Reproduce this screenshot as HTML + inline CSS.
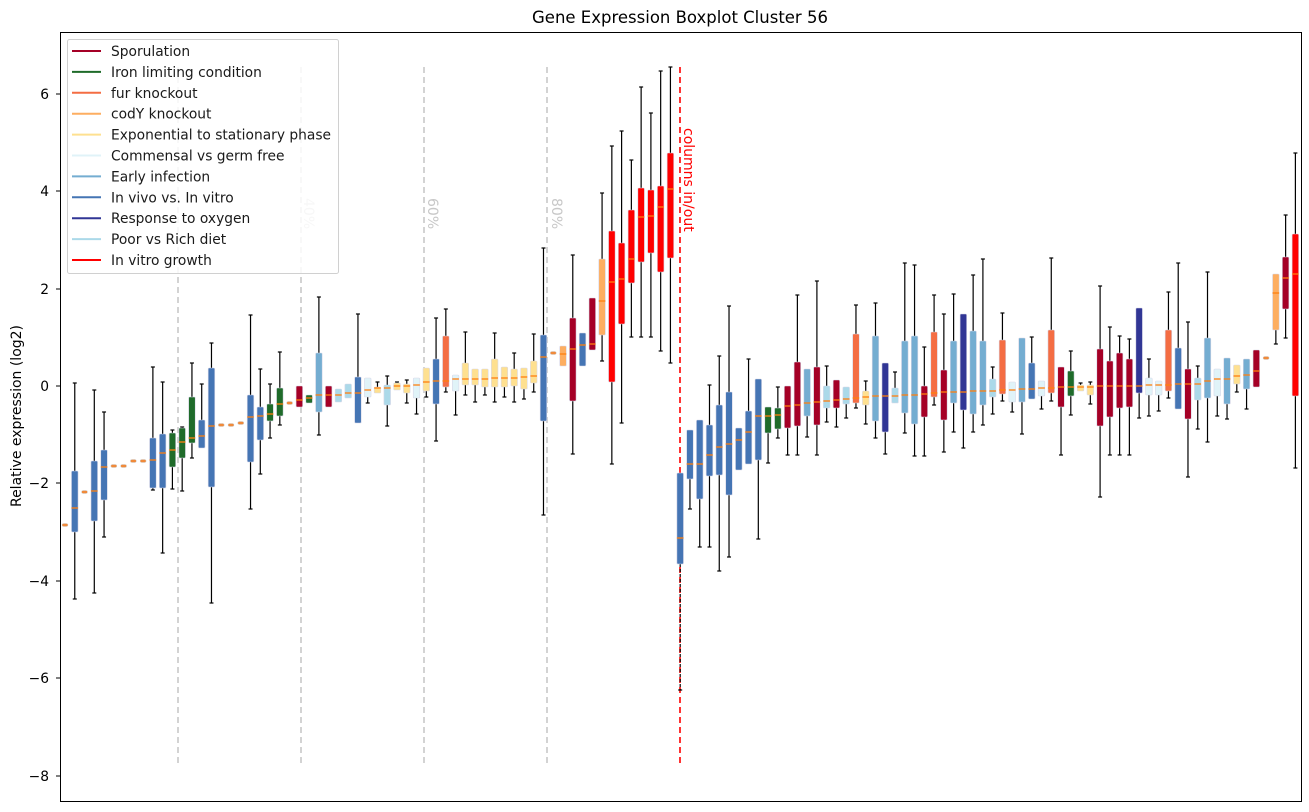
<!DOCTYPE html>
<html><head><meta charset="utf-8"><style>
html,body{margin:0;padding:0;background:#fff;}
svg{display:block;font-family:"DejaVu Sans","Liberation Sans",sans-serif;}
</style></head><body>
<svg id="s" width="1309" height="812" viewBox="0 0 1309 812" xmlns="http://www.w3.org/2000/svg">
<rect width="1309" height="812" fill="#fff"/>
<text x="680" y="23" font-size="16.5" text-anchor="middle" fill="#000">Gene Expression Boxplot Cluster 56</text>
<text transform="translate(21,416) rotate(-90)" font-size="14" text-anchor="middle" fill="#000">Relative expression (log2)</text>
<g id="yt" font-size="13.8" text-anchor="end" fill="#000"></g>
<g id="grid"></g>
<g id="boxes"></g>
<rect x="60.5" y="32.5" width="1241" height="769" fill="none" stroke="#000" stroke-width="1"/>
<g id="leg"></g>
</svg>
<script>
var NS="http://www.w3.org/2000/svg";
function el(p,t,a,txt){var e=document.createElementNS(NS,t);for(var k in a)e.setAttribute(k,a[k]);if(txt)e.textContent=txt;p.appendChild(e);return e;}
var yt=document.getElementById('yt');
[[6,94],[4,191],[2,289],[0,386],[-2,483],[-4,581],[-6,678],[-8,776]].forEach(function(t){
 el(yt,'line',{x1:56,x2:60,y1:t[1],y2:t[1],stroke:'#000'});
 el(yt,'text',{x:49,y:t[1]+5},String(t[0]).replace('-','\u2212'));
});
var g=document.getElementById('grid');
[178,301,424,547].forEach(function(x){el(g,'line',{x1:x,x2:x,y1:67,y2:767,stroke:'#c8c8c8','stroke-width':1.6,'stroke-dasharray':'6,4'});});
[['40%',308],['60%',432],['80%',556]].forEach(function(l){el(g,'text',{transform:'translate('+(l[1]-4)+',198) rotate(90)','font-size':14,fill:'#c8c8c8'},l[0]);});
el(g,'line',{x1:680,x2:680,y1:67,y2:767,stroke:'#ff0000','stroke-width':1.6,'stroke-dasharray':'6,4'});
el(g,'text',{transform:'translate(684,128) rotate(90)','font-size':14,fill:'#ff0000'},'columns in/out');
var C={S:'#a50026',I:'#1f6b2a',F:'#f46d43',Y:'#fdae61',E:'#fee090',M:'#e0f3f8',A:'#74add1',V:'#4575b4',O:'#313695',P:'#abd9e9',R:'#ff0000'};
var D=[
[0,'D',525],[1,'V',383,471,508,532,599],[2,'D',492],[3,'V',390,461,491,521,593],[4,'V',412,450,467,500,537],
[5,'D',466],[6,'D',466],[7,'D',461],[8,'D',461],[9,'V',367,438,460,488,490],[10,'V',382,434,453,488,553],
[11,'I',430,433,450,467,489],[12,'I',427,428,442,458,491],[13,'I',363,397,438,443,458],[14,'V',384,420,436,448,448],
[15,'V',343,368,426,487,603],[16,'D',425],[17,'D',425],[18,'D',423],[19,'V',315,395,417,462,509],[20,'V',369,407,416,440,474],
[21,'I',384,404,414,421,438],[22,'I',352,388,404,416,425],[23,'D',403],[24,'S',386,386,400,407,407],[25,'I',395,395,398,403,403],
[26,'A',297,353,395,412,435],[27,'S',386,386,395,407,407],[28,'P',389,389,395,402,402],[29,'P',384,384,393,398,398],
[30,'V',314,377,393,423,423],[31,'M',378,378,390,397,403],[32,'E',382,387,388,393,393],[33,'P',376,385,388,405,426],
[34,'E',382,383,386,390,390],[35,'E',380,384,386,393,403],[36,'M',378,378,385,398,414],[37,'E',368,368,382,391,397],
[38,'V',318,359,381,404,441],[39,'F',309,336,381,387,392],[40,'M',375,375,379,391,415],[41,'E',332,363,379,385,395],
[42,'E',369,369,379,385,402],[43,'E',369,369,379,387,395],[44,'E',333,359,378,387,402],[45,'E',367,367,378,387,397],
[46,'E',353,369,378,386,402],[47,'E',368,368,377,389,399],[48,'E',334,361,376,383,392],[49,'V',248,335,357,421,515],
[50,'D',353],[51,'Y',346,346,354,366,366],[52,'S',255,318,349,401,454],[53,'V',333,333,345,366,366],[54,'S',298,298,344,350,350],
[55,'Y',193,259,301,335,361],[56,'R',146,231,282,382,464],[57,'R',131,243,279,324,423],[58,'R',160,210,259,283,337],
[59,'R',87,188,217,262,337],[60,'R',113,190,216,253,337],[61,'R',71,186,207,272,351],[62,'R',67,153,189,258,363],
[63,'V',473,473,538,564,690],[64,'V',430,430,464,479,509],[65,'V',420,420,464,499,547],[66,'V',385,425,455,476,547],
[67,'V',356,405,447,475,571],[68,'V',306,392,444,495,557],[69,'V',428,428,440,470,470],[70,'V',359,411,432,464,464],
[71,'V',379,379,416,460,539],[72,'I',407,407,416,433,463],[73,'I',387,408,415,429,438],[74,'S',386,386,406,428,455],
[75,'S',295,362,405,426,455],[76,'A',369,369,403,416,437],[77,'S',281,367,402,425,455],[78,'P',366,386,401,408,422],
[79,'S',380,380,400,408,427],[80,'P',387,387,399,404,418],[81,'F',305,334,398,403,408],[82,'E',381,391,397,405,424],
[83,'A',303,336,396,421,438],[84,'O',363,363,396,432,454],[85,'P',372,388,396,403,403],[86,'A',263,341,395,413,433],
[87,'A',265,336,395,424,456],[88,'S',347,386,394,417,456],[89,'F',295,332,393,397,405],[90,'S',314,370,392,420,452],
[91,'A',294,341,392,403,432],[92,'O',314,314,392,410,448],[93,'A',275,331,391,414,432],[94,'A',259,341,391,405,425],
[95,'P',367,379,391,397,414],[96,'F',313,340,390,394,401],[97,'M',382,382,390,402,412],[98,'A',338,338,389,402,434],
[99,'V',337,363,389,399,399],[100,'M',381,381,388,396,409],[101,'F',258,330,388,393,401],[102,'S',367,367,387,407,455],
[103,'I',351,371,387,396,415],[104,'E',383,385,387,391,391],[105,'E',382,385,387,395,404],[106,'S',286,349,386,426,497],
[107,'S',327,361,386,417,455],[108,'S',336,353,386,408,455],[109,'S',339,359,386,407,455],[110,'O',308,308,386,393,418],
[111,'M',359,378,385,395,416],[112,'M',381,381,385,395,411],[113,'F',292,330,385,391,398],[114,'V',263,348,384,409,409],
[115,'S',322,369,384,419,477],[116,'P',366,378,384,400,429],[117,'A',272,338,381,398,442],[118,'M',369,369,379,396,416],
[119,'A',358,358,379,404,419],[120,'E',365,365,376,384,392],[121,'A',359,359,375,389,409],[122,'S',350,350,371,387,387],
[123,'D',358],[124,'Y',274,274,293,330,344],[125,'S',215,257,278,309,338],[126,'R',153,234,274,396,468]
];
var b=document.getElementById('boxes');
D.forEach(function(d){
 var x=65+9.765*d[0];
 if(d[1]==='D'){el(b,'rect',{x:x-3,y:d[2]-1.5,width:6,height:3,rx:1.5,fill:'#f08a3a',stroke:'#cfcfcf','stroke-width':0.5});return;}
 var c=C[d[1]],wt=d[2],q3=d[3],m=d[4],q1=d[5],wb=d[6];
 var dash=(d[0]==63)?{'stroke-dasharray':'3,2'}:{};
 if(wt<q3){el(b,'line',{x1:x,x2:x,y1:wt,y2:q3,stroke:'#000','stroke-width':1.2});el(b,'line',{x1:x-2,x2:x+2,y1:wt,y2:wt,stroke:'#000','stroke-width':1.2});}
 if(wb>q1){var a={x1:x,x2:x,y1:q1,y2:wb,stroke:'#000','stroke-width':1.2};for(var k in dash)a[k]=dash[k];el(b,'line',a);el(b,'line',{x1:x-2,x2:x+2,y1:wb,y2:wb,stroke:'#000','stroke-width':1.2});}
 el(b,'rect',{x:x-3.3,y:q3,width:6.6,height:Math.max(q1-q3,2),rx:1,fill:c,stroke:'#d8d8e8','stroke-width':0.6});
 el(b,'line',{x1:x-3.3,x2:x+3.3,y1:m,y2:m,stroke:'#ff7f0e','stroke-width':1.3});
});
var L=document.getElementById('leg');
el(L,'rect',{x:67.5,y:39.5,width:271,height:234,rx:2,fill:'#fff','fill-opacity':0.85,stroke:'#d0d0d0'});
[['Sporulation','S'],['Iron limiting condition','I'],['fur knockout','F'],['codY knockout','Y'],['Exponential to stationary phase','E'],['Commensal vs germ free','M'],['Early infection','A'],['In vivo vs. In vitro','V'],['Response to oxygen','O'],['Poor vs Rich diet','P'],['In vitro growth','R']].forEach(function(l,i){
 var y=51+i*20.9;
 el(L,'line',{x1:72,x2:101,y1:y,y2:y,stroke:C[l[1]],'stroke-width':2});
 el(L,'text',{x:111,y:y+5,'font-size':13.8,fill:'#1a1a1a'},l[0]);
});
</script>
</body></html>
